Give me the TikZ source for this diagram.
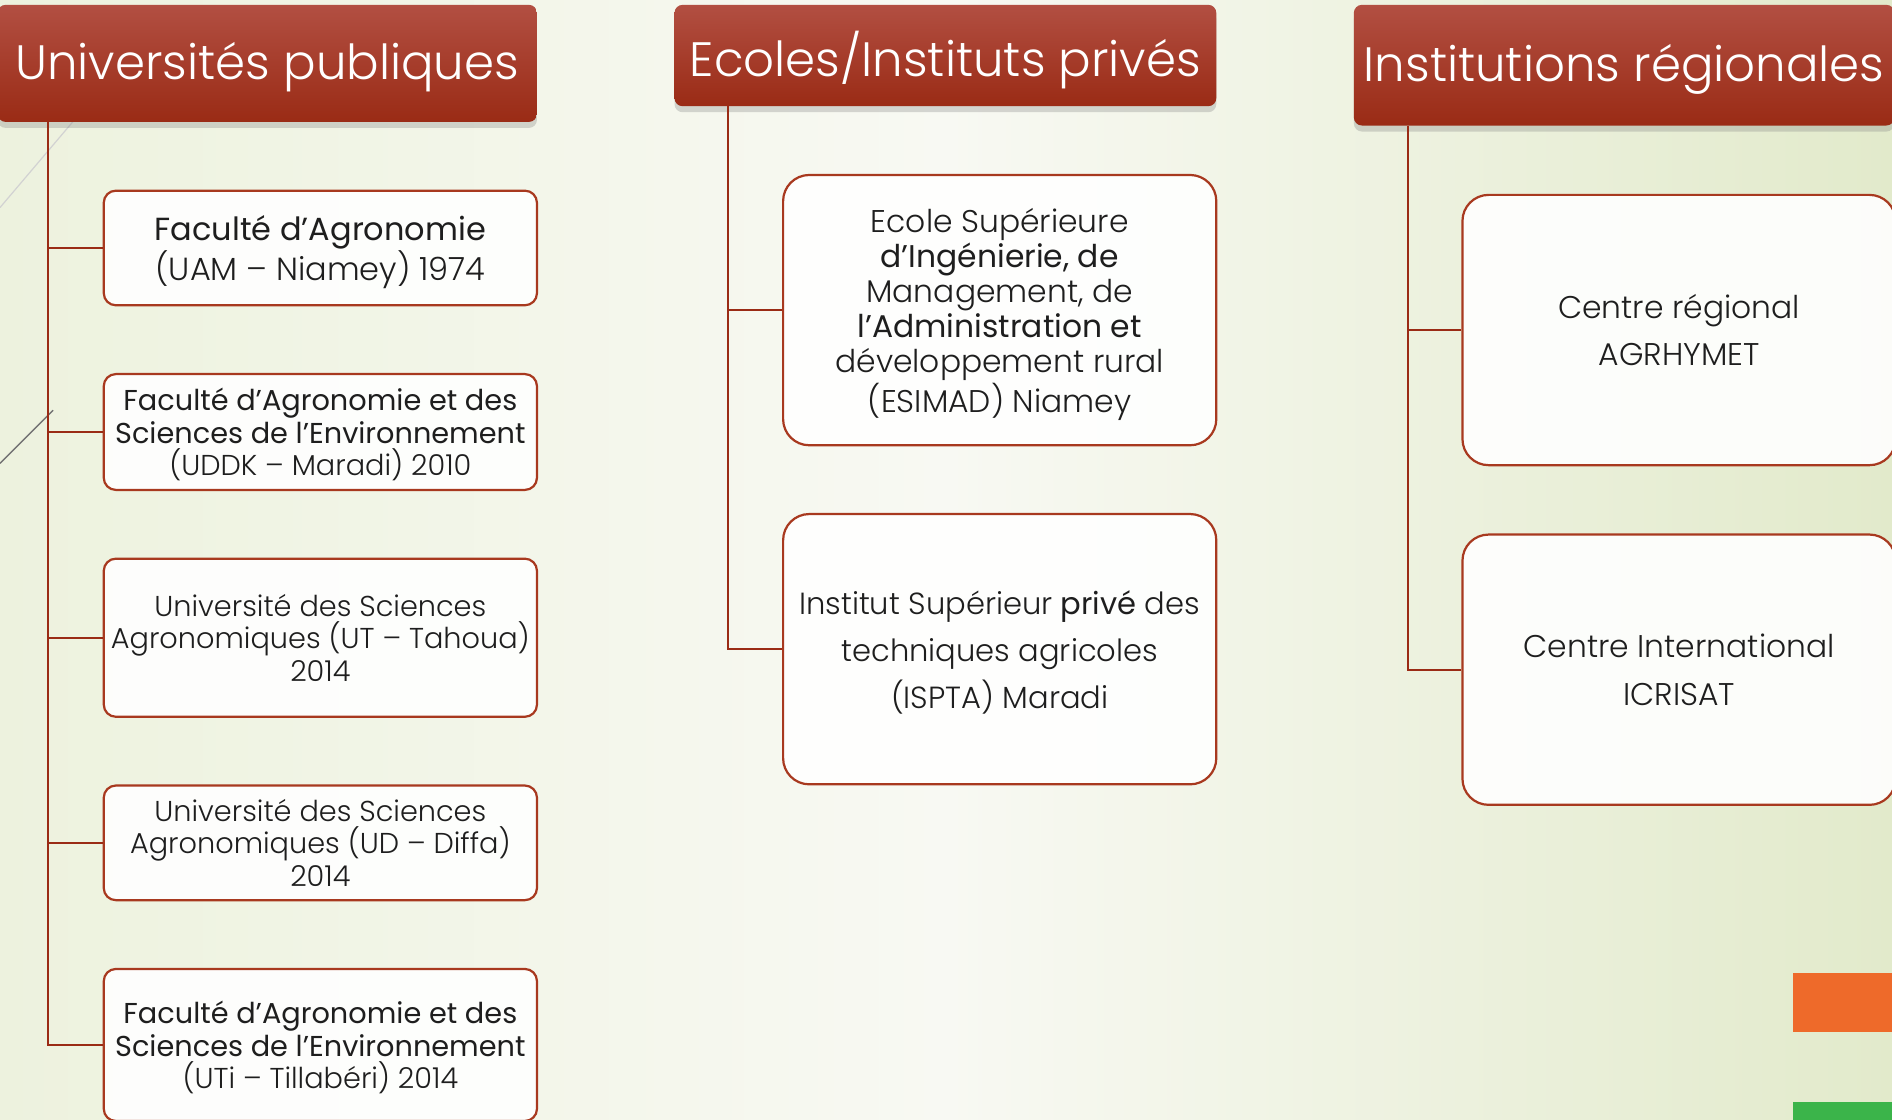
\documentclass[tikz,border=0pt]{standalone}
\usepackage{fontspec}
\setmainfont{Poppins}[UprightFont={* Light},BoldFont={* Regular}]
\usetikzlibrary{shadows}
\definecolor{hdtop}{HTML}{B24F42}
\definecolor{hdbot}{HTML}{9A2B15}
\definecolor{rim}{HTML}{A8391F}
\definecolor{bgleft}{HTML}{EDF2DE}
\definecolor{bgmid}{HTML}{F8F9F3}
\definecolor{bgright}{HTML}{E2EACB}
\definecolor{ink}{HTML}{1E1E1E}
\definecolor{flagorange}{HTML}{EE6A2A}
\definecolor{flaggreen}{HTML}{3BB44A}

\begin{document}
\begin{tikzpicture}[x=0.6pt,y=-0.6pt]
\tikzstyle{header}=[rounded corners=4pt, top color=hdtop, bottom color=hdbot, text=white, font=\fontsize{24}{28}\selectfont, inner sep=0pt, text depth=2pt, drop shadow={opacity=.3, shadow xshift=0pt, shadow yshift=-3pt}]
\tikzstyle{unit}=[draw=rim, line width=1.1pt, fill=white, fill opacity=.9, text opacity=1, text=ink, rounded corners=6pt, minimum width=215.4pt, align=center, inner sep=0pt, text depth=0pt, font=\fontsize{14.3}{16.2}\selectfont]
\tikzstyle{bigunit}=[unit, rounded corners=13pt, minimum height=134.4pt]
\tikzstyle{link}=[draw=hdbot, line width=1pt]
\useasboundingbox (0,0) rectangle (1568,928);
\clip (0,0) rectangle (1568,928);
\shade[left color=bgleft, right color=bgright, middle color=bgmid] (0,0) rectangle (1568,928);
\draw[gray!35, line width=.6pt] (0,172) -- (90,66);
\draw[black!55, line width=.7pt] (0,384) -- (44,340);

% en-tetes
\node[header, minimum width=268.2pt, minimum height=58.2pt] (hpub) at (221.5,52.5) {Universités publiques};
\node[header, minimum width=269.4pt, minimum height=50.4pt] (hpriv) at (783.5,46) {Ecoles/Instituts privés};
\node[header, minimum width=268.8pt, minimum height=60pt] (hreg) at (1346,54) {Institutions régionales};

% universites
\node[unit, minimum height=57pt, font=\fontsize{15.9}{18}\selectfont] (pub1) at (265.5,205.5) {\bfseries Faculté d’Agronomie\\(UAM – Niamey) 1974};
\node[unit, minimum height=57.6pt] (pub2) at (265.5,358) {\bfseries Faculté d’Agronomie et des\\\bfseries Sciences de l’Environnement\\(UDDK – Maradi) 2010};
\node[unit, minimum height=78.6pt] (pub3) at (265.5,528.5) {Université des Sciences\\Agronomiques (UT – Tahoua)\\2014};
\node[unit, minimum height=57pt] (pub4) at (265.5,698.5) {Université des Sciences\\Agronomiques (UD – Diffa)\\2014};
\node[unit, minimum height=75.6pt] (pub5) at (265.5,866) {\bfseries Faculté d’Agronomie et des\\\bfseries Sciences de l’Environnement\\(UTi – Tillabéri) 2014};

% ecoles privees
\node[bigunit, font=\fontsize{15.6}{17.5}\selectfont] (priv1) at (828.5,257) {Ecole Supérieure\\\bfseries d’Ingénierie, de\\Management, de\\\bfseries l’Administration et\\développement rural\\(ESIMAD) Niamey};
\node[bigunit, font=\fontsize{15.2}{23.4}\selectfont] (priv2) at (828.5,538) {Institut Supérieur \textbf{privé} des\\techniques agricoles\\(ISPTA) Maradi};

% institutions regionales
\node[bigunit, font=\fontsize{15.6}{23.7}\selectfont] (reg1) at (1391.5,273.5) {Centre régional\\AGRHYMET};
\node[bigunit, font=\fontsize{15.6}{23.7}\selectfont] (reg2) at (1391.5,555) {Centre International\\ICRISAT};

% liaisons
\coordinate (tpub) at (40,101);
\coordinate (tpriv) at (603,88);
\coordinate (treg) at (1167,104);
\draw[link] (tpub) |- (pub5.west);
\foreach \i in {1,...,4} \draw[link] (tpub |- pub\i.west) -- (pub\i.west);
\draw[link] (tpriv) |- (priv2.west);
\draw[link] (tpriv |- priv1.west) -- (priv1.west);
\draw[link] (treg) |- (reg2.west);
\draw[link] (treg |- reg1.west) -- (reg1.west);

\fill[flagorange] (1486,806) rectangle (1568,855);
\fill[flaggreen] (1486,913) rectangle (1568,928);
\end{tikzpicture}
\end{document}
